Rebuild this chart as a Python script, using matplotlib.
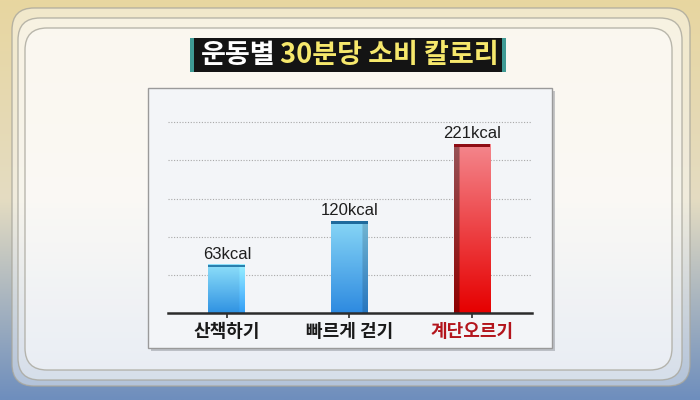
import numpy as np
import matplotlib
matplotlib.use("Agg")
import matplotlib.pyplot as plt
from matplotlib.patches import FancyBboxPatch, Rectangle
from matplotlib.colors import to_rgb

plt.rcParams['font.family'] = ['Noto Sans CJK KR', 'DejaVu Sans']

# ---- data ----
categories = ['산책하기', '빠르게 걷기', '계단오르기']
values = [63, 120, 221]
value_labels = ['63kcal', '120kcal', '221kcal']
grid_values = [50, 100, 150, 200, 250]
title_white = '운동별'
title_yellow = '30분당 소비 칼로리'
label_colors = ['#1a1a1a', '#1a1a1a', '#b3141c']

W, H = 700, 400
fig = plt.figure(figsize=(W / 100, H / 100), dpi=100)

# ---- background layer (pixel coordinates, y downward) ----
bg = fig.add_axes([0, 0, 1, 1])
bg.set_xlim(0, W)
bg.set_ylim(H, 0)
bg.axis('off')

top_c = np.array(to_rgb('#e8d6a0'))
mid_c = np.array(to_rgb('#e4dcc2'))
bot_c = np.array(to_rgb('#6e8ebd'))
t = np.linspace(0, 1, 200)[:, None]
grad = np.where(t < 0.5,
                top_c + (mid_c - top_c) * (t / 0.5),
                mid_c + (bot_c - mid_c) * ((t - 0.5) / 0.5))
grad = grad[:, None, :].repeat(2, axis=1)
bg.imshow(grad, extent=(0, W, H, 0), aspect='auto', zorder=0, interpolation='bilinear')

cards = [(12, 8, 678, 378), (18, 18, 664, 362), (25, 28, 647, 342)]
for (x, y, w, h) in cards:
    bg.add_patch(FancyBboxPatch((x, y), w, h, boxstyle='round,pad=0,rounding_size=22',
                                facecolor='white', alpha=0.45, edgecolor='none',
                                zorder=1))
    bg.add_patch(FancyBboxPatch((x, y), w, h, boxstyle='round,pad=0,rounding_size=22',
                                facecolor='none', edgecolor='#a9a79c', alpha=0.8,
                                linewidth=1.0, zorder=1))

# chart panel with shadow
bg.add_patch(Rectangle((151, 91), 404, 260, facecolor='#8f939a', alpha=0.5,
                       edgecolor='none', zorder=2))
bg.add_patch(Rectangle((148, 88), 404, 260, facecolor='#f3f5f8', edgecolor='#9a9a9a',
                       linewidth=1.0, zorder=3))

# title box
bg.add_patch(Rectangle((190, 38), 316, 34, facecolor='#141414', edgecolor='none', zorder=3))
bg.add_patch(Rectangle((190, 38), 4, 34, facecolor='#3f9a94', edgecolor='none', zorder=4))
bg.add_patch(Rectangle((502, 38), 4, 34, facecolor='#3f9a94', edgecolor='none', zorder=4))
bg.text(275, 55, title_white, color='white', fontsize=19.5, fontweight='bold',
        ha='right', va='center', zorder=5)
bg.text(280, 55, title_yellow, color='#f6e86c', fontsize=19.5, fontweight='bold',
        ha='left', va='center', zorder=5)

# ---- chart axes ----
ax = fig.add_axes([168 / W, 1 - 313 / H, 364 / W, 204.5 / H])
ax.patch.set_alpha(0)

ax.hlines(grid_values, 0, 1, transform=ax.get_yaxis_transform(),
          colors='#a8a8a8', linewidth=0.8, linestyles=(0, (1, 1.5)), zorder=1)

bar_w = 0.3
styles = [
    dict(top='#8fe0fa', bot='#2f92e2', side='right', side_f=1.08, cap='#2a7fae'),
    dict(top='#88d6f6', bot='#2d8ae0', side='right', side_f=0.85, cap='#1f6a9c'),
    dict(top='#f4868c', bot='#e60000', side='left', side_f=0.62, cap='#8e0d14'),
]
bars = ax.bar(range(len(values)), values, width=bar_w, facecolor='none',
              edgecolor='none', zorder=2)
for i, (b, st) in enumerate(zip(bars, styles)):
    x0 = b.get_x()
    h = b.get_height()
    ny, nx = 120, 40
    tt = np.linspace(0, 1, ny)[:, None, None]
    ct = np.array(to_rgb(st['top']))
    cb = np.array(to_rgb(st['bot']))
    img = (ct + (cb - ct) * tt).repeat(nx, axis=1)
    ns = int(nx * 0.16)
    if st['side'] == 'right':
        img[:, nx - ns:, :] = np.clip(img[:, nx - ns:, :] * st['side_f'], 0, 1)
    else:
        img[:, :ns, :] = np.clip(img[:, :ns, :] * st['side_f'], 0, 1)
    ax.imshow(img, extent=(x0, x0 + bar_w, 0, h), aspect='auto', zorder=2,
              interpolation='bilinear')
    ax.add_patch(Rectangle((x0, h - 3.2), bar_w, 3.2, facecolor=st['cap'],
                           edgecolor='none', zorder=3))
    ax.text(i, h + 4, value_labels[i], ha='center', va='bottom', fontsize=12,
            family=['Liberation Sans', 'DejaVu Sans'], color='#1e1e1e', zorder=4)

ax.set_aspect('auto')
ax.set_xlim(-0.48, 2.49)
ax.set_ylim(0, 268)

for s in ['top', 'right', 'left']:
    ax.spines[s].set_visible(False)
ax.spines['bottom'].set_color('#2b2b2b')
ax.spines['bottom'].set_linewidth(1.8)
ax.set_yticks([])
ax.set_xticks(range(len(categories)))
ax.set_xticklabels(categories, fontsize=13, fontweight='bold')
for lbl, c in zip(ax.get_xticklabels(), label_colors):
    lbl.set_color(c)
ax.tick_params(axis='x', direction='inout', length=7, width=1.2, color='#2b2b2b', pad=3)

fig.savefig('out.png', dpi=100)
